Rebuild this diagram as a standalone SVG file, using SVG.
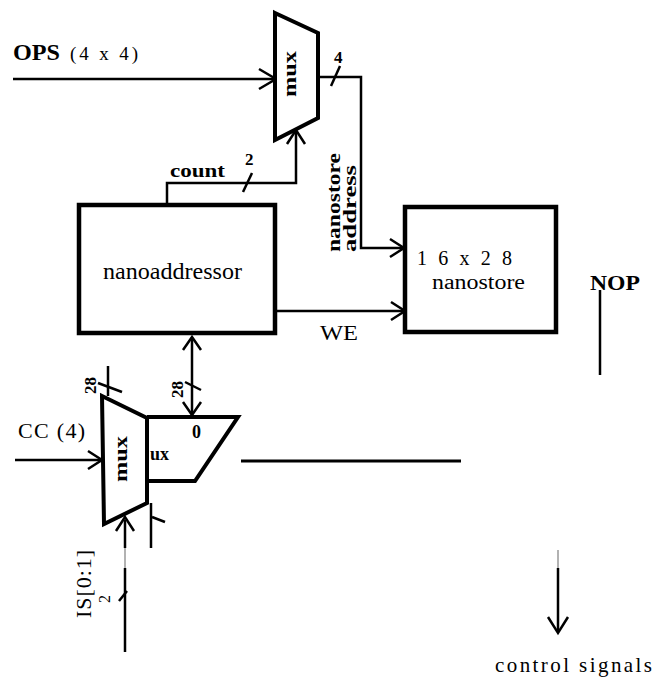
<svg xmlns="http://www.w3.org/2000/svg" width="653" height="677" viewBox="0 0 653 677">
<style>
.bx{fill:#fff;stroke:#000;stroke-width:4.5}
.mx{fill:#fff;stroke:#000;stroke-width:4;stroke-linejoin:miter}
.w{fill:none;stroke:#000;stroke-width:2.5}
.ah{fill:none;stroke:#000;stroke-width:2.5;stroke-linejoin:miter}
.t{font-family:"Liberation Serif","Times New Roman",serif;fill:#000}
.b{font-family:"Liberation Serif","Times New Roman",serif;font-weight:bold;fill:#000}
</style>
<rect width="653" height="677" fill="#fff"/>
<g id="connectors">
  <path class="w" d="M13 79H276"/>
  <path class="ah" d="M259 69L276 79L259 89"/>
  <path class="w" d="M319 77H361V248H403"/>
  <path class="ah" d="M390 239L404 248L390 257"/>
  <path class="w" d="M331 86L340 66"/>
  <path class="w" d="M167 204V183H296V132"/>
  <path class="ah" d="M287 144L296 130L305 144"/>
  <path class="w" d="M243 192L252 173"/>
  <path class="w" d="M275 311H404"/>
  <path class="ah" d="M391 302L405 311L391 320"/>
  <path class="w" d="M192 338V460"/>
  <path class="ah" d="M183 350L192 337L201 350"/>
  <path class="ah" d="M183 402L192 415L201 402"/>
  <path class="w" d="M185 382L201 390"/>
  <path class="w" d="M108 366V396"/>
  <path class="w" d="M98 383L122 392"/>
  <path class="w" d="M15 460H101"/>
  <path class="ah" d="M88 451L102 460L88 469"/>
  <path class="w" d="M151 503V548"/>
  <path class="w" d="M152 517L165 522"/>
  <path d="M125 548V568" stroke="#999" stroke-width="1.5"/>
  <path class="w" d="M125 568V652"/>
  <path class="w" d="M125 520V548"/>
  <path class="ah" d="M116 531L125 517L134 531"/>
  <path class="w" d="M119 601L127 591"/>
  <path class="w" d="M241 461H461" style="stroke-width:3"/>
  <path class="w" d="M600 290V375"/>
  <path d="M558 550V568" stroke="#999" stroke-width="1.5"/>
  <path class="w" d="M558 568V632"/>
  <path class="ah" d="M548 617L558 633L568 617"/>
</g>
<g id="ops-label">
  <text class="b" x="13" y="60" font-size="24" textLength="47" lengthAdjust="spacingAndGlyphs">OPS</text>
  <text class="t" x="70" y="60" font-size="19" textLength="68" lengthAdjust="spacing">(4 x 4)</text>
</g>
<g id="mux-top">
  <polygon class="mx" points="275,13 318,33 318,118 275,140"/>
  <text class="b" font-size="19" transform="translate(296,97) rotate(-90)" textLength="46" lengthAdjust="spacingAndGlyphs">mux</text>
  <text class="b" x="334" y="63" font-size="17">4</text>
</g>
<g id="count-label">
  <text class="b" x="170" y="177" font-size="18" textLength="55" lengthAdjust="spacingAndGlyphs">count</text>
  <text class="b" x="245" y="165" font-size="17">2</text>
</g>
<g id="nanostore-address-label">
  <text class="b" font-size="18" transform="translate(340,252) rotate(-90)" textLength="99" lengthAdjust="spacingAndGlyphs">nanostore</text>
  <text class="b" font-size="18" transform="translate(356,252) rotate(-90)" textLength="87" lengthAdjust="spacingAndGlyphs">address</text>
</g>
<g id="nanoaddressor">
  <rect class="bx" x="79" y="205" width="196" height="128"/>
  <text class="t" x="103" y="279" font-size="23" textLength="139" lengthAdjust="spacingAndGlyphs">nanoaddressor</text>
</g>
<g id="nanostore">
  <rect class="bx" x="405" y="207" width="151" height="125"/>
  <text class="t" x="417" y="265" font-size="20" textLength="95" lengthAdjust="spacing">1 6 x 2 8</text>
  <text class="t" x="432" y="289" font-size="20" textLength="93" lengthAdjust="spacingAndGlyphs">nanostore</text>
</g>
<g id="we-label">
  <text class="t" x="320" y="340" font-size="22" textLength="38" lengthAdjust="spacingAndGlyphs">WE</text>
</g>
<g id="nop-label">
  <text class="b" x="590" y="290" font-size="22" textLength="50" lengthAdjust="spacingAndGlyphs">NOP</text>
</g>
<g id="mux-hidden">
  <path class="mx" d="M147 417H238L195 481H147"/>
  <text class="b" x="150" y="460" font-size="18">ux</text>
  <text class="b" x="192" y="438" font-size="18">0</text>
</g>
<g id="bits-28">
  <text class="b" font-size="17" transform="translate(96,394) rotate(-90)">28</text>
  <text class="b" font-size="17" transform="translate(183,398) rotate(-90)">28</text>
</g>
<g id="mux-bottom">
  <polygon class="mx" points="102,396 147,418 147,503 104,524"/>
  <text class="b" font-size="19" transform="translate(127,482) rotate(-90)" textLength="46" lengthAdjust="spacingAndGlyphs">mux</text>
</g>
<g id="cc-label">
  <text class="t" x="18" y="438" font-size="22" textLength="67" lengthAdjust="spacing">CC (4)</text>
</g>
<g id="is-label">
  <text class="t" font-size="22" transform="translate(91,618) rotate(-90)" textLength="68" lengthAdjust="spacing">IS[0:1]</text>
  <text class="t" font-size="16" transform="translate(110,603) rotate(-90)">2</text>
</g>
<g id="control-signals">
  <text class="t" x="495" y="672" font-size="21" textLength="157" lengthAdjust="spacing">control   signals</text>
</g>
</svg>
